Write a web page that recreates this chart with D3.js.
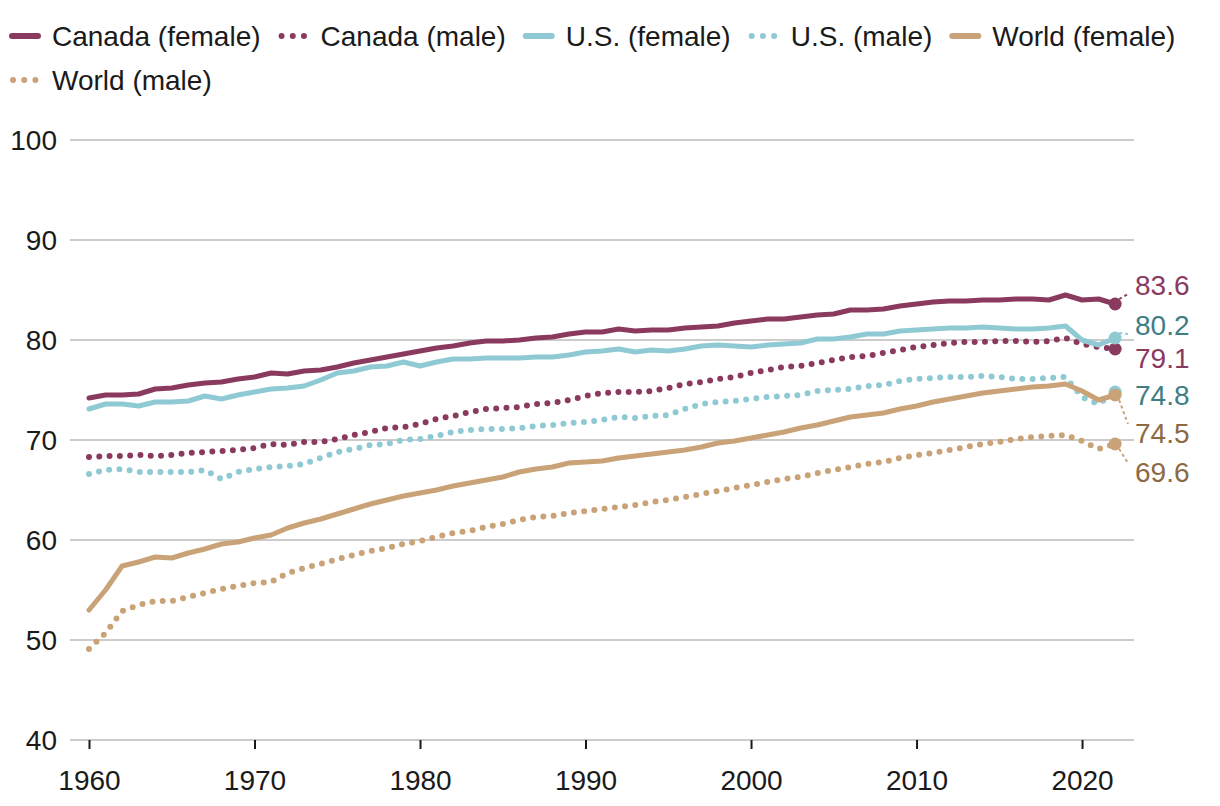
<!DOCTYPE html>
<html>
<head>
<meta charset="utf-8">
<script src="https://cdn.jsdelivr.net/npm/d3@7"></script>
<style>
  body { margin: 0; background: #fff; }
  text { font-family: "Liberation Sans", Arial, sans-serif; }
</style>
</head>
<body>
<div id="chart"></div>
<script>
// years on the x axis
const years = d3.range(1960, 2023);

// life expectancy at birth, 1960-2022
const canadaFemale = [
  74.2, 74.5, 74.5, 74.6, 75.1, 75.2, 75.5, 75.7, 75.8, 76.1, 76.3,
  76.7, 76.6, 76.9, 77.0, 77.3, 77.7, 78.0, 78.3, 78.6, 78.9,
  79.2, 79.4, 79.7, 79.9, 79.9, 80.0, 80.2, 80.3, 80.6, 80.8,
  80.8, 81.1, 80.9, 81.0, 81.0, 81.2, 81.3, 81.4, 81.7, 81.9,
  82.1, 82.1, 82.3, 82.5, 82.6, 83.0, 83.0, 83.1, 83.4, 83.6,
  83.8, 83.9, 83.9, 84.0, 84.0, 84.1, 84.1, 84.0, 84.5, 84.0,
  84.1, 83.6
];
const canadaMale = [
  68.3, 68.4, 68.4, 68.5, 68.4, 68.5, 68.7, 68.8, 68.9, 69.0, 69.2,
  69.6, 69.5, 69.8, 69.8, 70.1, 70.5, 70.8, 71.2, 71.3, 71.6,
  72.1, 72.4, 72.8, 73.1, 73.2, 73.3, 73.6, 73.7, 74.0, 74.4,
  74.7, 74.8, 74.8, 74.9, 75.2, 75.6, 75.8, 76.1, 76.3, 76.7,
  77.0, 77.3, 77.4, 77.7, 78.0, 78.3, 78.4, 78.7, 79.0, 79.3,
  79.5, 79.7, 79.8, 79.8, 79.9, 79.9, 79.8, 79.9, 80.2, 79.6,
  79.3, 79.1
];
const usFemale = [
  73.1, 73.6, 73.6, 73.4, 73.8, 73.8, 73.9, 74.4, 74.1, 74.5, 74.8,
  75.1, 75.2, 75.4, 76.0, 76.7, 76.9, 77.3, 77.4, 77.8, 77.4,
  77.8, 78.1, 78.1, 78.2, 78.2, 78.2, 78.3, 78.3, 78.5, 78.8,
  78.9, 79.1, 78.8, 79.0, 78.9, 79.1, 79.4, 79.5, 79.4, 79.3,
  79.5, 79.6, 79.7, 80.1, 80.1, 80.3, 80.6, 80.6, 80.9, 81.0,
  81.1, 81.2, 81.2, 81.3, 81.2, 81.1, 81.1, 81.2, 81.4, 80.0,
  79.5, 80.2
];
const usMale = [
  66.6, 67.0, 67.1, 66.8, 66.8, 66.8, 66.8, 67.0, 66.1, 66.8, 67.1,
  67.3, 67.4, 67.6, 68.2, 68.8, 69.1, 69.5, 69.6, 70.0, 70.1,
  70.4, 70.8, 71.0, 71.1, 71.1, 71.2, 71.4, 71.5, 71.7, 71.8,
  72.0, 72.3, 72.2, 72.4, 72.5, 73.1, 73.6, 73.8, 73.9, 74.1,
  74.3, 74.4, 74.5, 74.9, 75.0, 75.1, 75.4, 75.5, 75.9, 76.1,
  76.2, 76.3, 76.3, 76.4, 76.3, 76.1, 76.1, 76.2, 76.3, 74.3,
  73.6, 74.8
];
const worldFemale = [
  53.0, 55.0, 57.4, 57.8, 58.3, 58.2, 58.7, 59.1, 59.6, 59.8, 60.2,
  60.5, 61.2, 61.7, 62.1, 62.6, 63.1, 63.6, 64.0, 64.4, 64.7,
  65.0, 65.4, 65.7, 66.0, 66.3, 66.8, 67.1, 67.3, 67.7, 67.8,
  67.9, 68.2, 68.4, 68.6, 68.8, 69.0, 69.3, 69.7, 69.9, 70.2,
  70.5, 70.8, 71.2, 71.5, 71.9, 72.3, 72.5, 72.7, 73.1, 73.4,
  73.8, 74.1, 74.4, 74.7, 74.9, 75.1, 75.3, 75.4, 75.6, 74.9,
  74.0, 74.5
];
const worldMale = [
  49.1, 50.7, 52.9, 53.5, 53.9, 53.9, 54.3, 54.7, 55.1, 55.4, 55.7,
  55.8, 56.7, 57.2, 57.6, 58.1, 58.5, 58.9, 59.2, 59.6, 59.9,
  60.3, 60.7, 60.9, 61.3, 61.6, 62.0, 62.3, 62.4, 62.7, 62.9,
  63.1, 63.3, 63.5, 63.8, 64.0, 64.3, 64.6, 64.9, 65.2, 65.5,
  65.8, 66.1, 66.3, 66.7, 67.0, 67.3, 67.6, 67.8, 68.2, 68.5,
  68.7, 69.0, 69.3, 69.6, 69.8, 70.1, 70.3, 70.4, 70.5, 69.9,
  69.1, 69.6
];

const seriesNames = [
  "Canada (female)", "Canada (male)", "U.S. (female)",
  "U.S. (male)", "World (female)", "World (male)"
];
const seriesValues = [canadaFemale, canadaMale, usFemale, usMale, worldFemale, worldMale];

const yTicks = [40, 50, 60, 70, 80, 90, 100];
const xTicks = [1960, 1970, 1980, 1990, 2000, 2010, 2020];

// end-of-line labels (2022)
const endLabels = ["83.6", "79.1", "80.2", "74.8", "74.5", "69.6"];

// styles per series
const lineColors = ["#8b3a5f", "#8b3a5f", "#8fcad4", "#8fcad4", "#c9a377", "#c9a377"];
const labelColors = ["#8b3a5f", "#8b3a5f", "#3f7d86", "#3f7d86", "#8c6a43", "#8c6a43"];
const dotted = [false, true, false, true, false, true];
// vertical nudge of the end labels so they don't collide (px)
const labelDy = [-19, 9, -13, 3, 38, 28];

function draw() {
  const width = 1220;
  const height = 806;

  const svg = d3.select("#chart")
    .append("svg")
    .attr("width", width)
    .attr("height", height);

  const x = d3.scaleLinear().domain([1960, 2023]).range([89, 1131.7]);
  const y = d3.scaleLinear().domain([40, 100]).range([740, 140]);

  // grid lines
  svg.append("g")
    .selectAll("line")
    .data(yTicks)
    .enter()
    .append("line")
    .attr("x1", 70)
    .attr("x2", 1134)
    .attr("y1", (d) => y(d))
    .attr("y2", (d) => y(d))
    .attr("stroke", "#cccccc")
    .attr("stroke-width", 2);

  // y labels
  svg.append("g")
    .selectAll("text")
    .data(yTicks)
    .enter()
    .append("text")
    .attr("x", 57)
    .attr("y", (d) => y(d))
    .attr("dy", "0.36em")
    .attr("text-anchor", "end")
    .attr("font-size", 28)
    .attr("fill", "#1a1a1a")
    .text((d) => d);

  // x axis ticks and labels
  const xAxis = d3.axisBottom(x)
    .tickValues(xTicks)
    .tickFormat(d3.format("d"))
    .tickSize(9)
    .tickPadding(21);
  const gx = svg.append("g")
    .attr("transform", "translate(0," + y(40) + ")")
    .call(xAxis);
  gx.select(".domain").remove();
  gx.selectAll(".tick line").attr("stroke", "#1a1a1a").attr("stroke-width", 2);
  gx.selectAll(".tick text")
    .attr("font-size", 28)
    .attr("font-family", "Liberation Sans, Arial, sans-serif")
    .attr("fill", "#1a1a1a");

  const line = d3.line()
    .x((d, i) => x(years[i]))
    .y((d) => y(d));

  // lines
  seriesValues.forEach((vals, s) => {
    svg.append("path")
      .datum(vals)
      .attr("fill", "none")
      .attr("stroke", lineColors[s])
      .attr("stroke-width", dotted[s] ? 6 : 5)
      .attr("stroke-linecap", "round")
      .attr("stroke-linejoin", "round")
      .attr("stroke-dasharray", dotted[s] ? "0 10.3" : null)
      .attr("d", line);
  });

  // end dots, leaders and labels
  const lastYear = years[years.length - 1];
  const labelX = 1135;
  seriesValues.forEach((vals, s) => {
    const v = vals[vals.length - 1];
    const cx = x(lastYear);
    const cy = y(v);
    const ly = cy + labelDy[s];

    if (Math.abs(labelDy[s]) > 10) {
      const dir = labelDy[s] < 0 ? -1 : 1;
      svg.append("line")
        .attr("x1", cx + 4)
        .attr("y1", cy + dir * 5)
        .attr("x2", labelX - 7)
        .attr("y2", ly - dir * 9)
        .attr("stroke", lineColors[s])
        .attr("stroke-width", 2)
        .attr("stroke-dasharray", "3 3");
    }

    svg.append("circle")
      .attr("cx", cx)
      .attr("cy", cy)
      .attr("r", 6.5)
      .attr("fill", lineColors[s]);

    svg.append("text")
      .attr("x", labelX)
      .attr("y", ly)
      .attr("dy", "0.36em")
      .attr("font-size", 28)
      .attr("fill", labelColors[s])
      .text(endLabels[s]);
  });

  // legend (flows and wraps)
  const legend = svg.append("g");
  let lx = 10;
  let row = 0;
  const rowY = [36, 80];
  seriesNames.forEach((name, s) => {
    const g = legend.append("g");
    const t = g.append("text")
      .attr("font-size", 28)
      .attr("fill", "#1a1a1a")
      .attr("dy", "0.36em")
      .text(name);
    const tw = t.node().getComputedTextLength();
    if (lx + 42 + tw > 1200) {
      row += 1;
      lx = 10;
    }
    const cy = rowY[row];
    t.attr("x", lx + 42).attr("y", cy);
    if (dotted[s]) {
      g.append("line")
        .attr("x1", lx + 3)
        .attr("x2", lx + 26)
        .attr("y1", cy)
        .attr("y2", cy)
        .attr("stroke", lineColors[s])
        .attr("stroke-width", 6)
        .attr("stroke-linecap", "round")
        .attr("stroke-dasharray", "0 11.2");
    } else {
      g.append("line")
        .attr("x1", lx + 2)
        .attr("x2", lx + 28)
        .attr("y1", cy)
        .attr("y2", cy)
        .attr("stroke", lineColors[s])
        .attr("stroke-width", 6)
        .attr("stroke-linecap", "round");
    }
    lx = lx + 42 + tw + 18;
  });
}

draw();
</script>
</body>
</html>
